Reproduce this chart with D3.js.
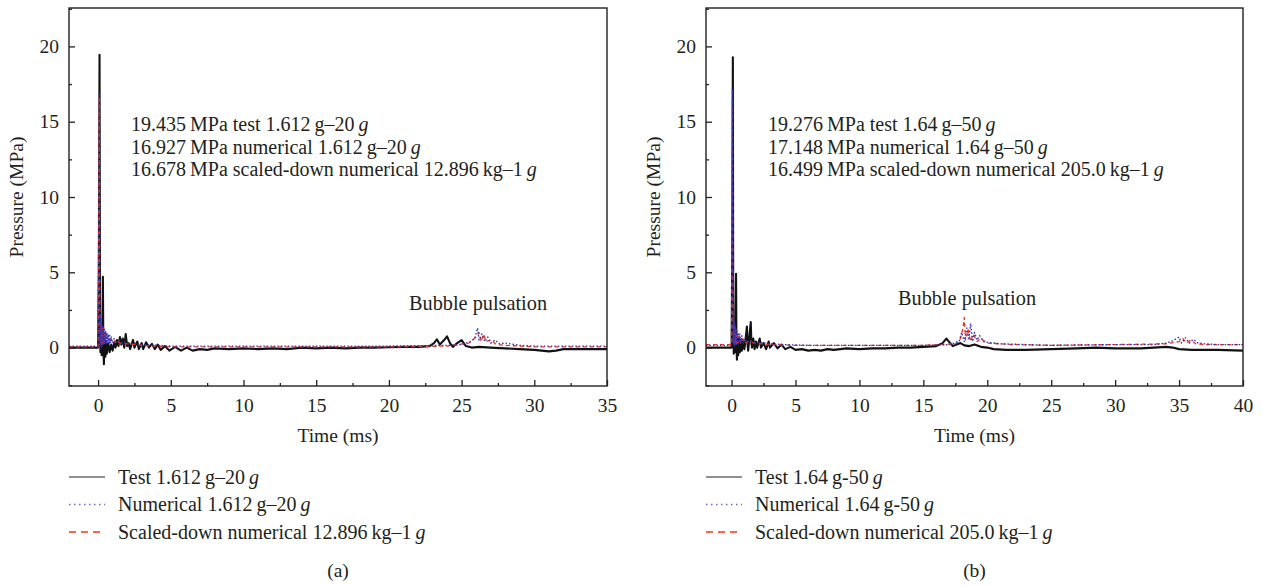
<!DOCTYPE html>
<html><head><meta charset="utf-8">
<script src="https://cdn.jsdelivr.net/npm/d3@7"></script>
<style>body{margin:0;background:#fff}svg{display:block}text{font-family:"Liberation Serif",serif;fill:#231f20}</style>
</head><body><svg id="c" width="1262" height="586"></svg>
<script>
// ---------- data ----------
const yTicks = [0, 5, 10, 15, 20];
const xTicksA = [0, 5, 10, 15, 20, 25, 30, 35];
const xTicksB = [0, 5, 10, 15, 20, 25, 30, 35, 40];

const testA = [[-2,0],[-0.3,0],[0,0],[0.05,5],[0.1,19.435],[0.13,3],[0.16,-0.3],[0.2,1.2],[0.25,-0.5],[0.3,0.8],[0.33,4.7],[0.36,0.2],[0.4,-1.1],[0.45,0.6],[0.5,-0.6],[0.55,0.4],[0.6,-0.4],[0.7,0.3],[0.8,-0.3],[0.9,0.2],[1.0,-0.2],[1.1,0.3],[1.2,0.0],[1.3,0.5],[1.4,0.1],[1.5,0.7],[1.6,0.2],[1.7,0.6],[1.8,0.0],[1.9,0.9],[2.0,0.1],[2.1,0.3],[2.2,-0.1],[2.4,0.5],[2.5,0.0],[2.7,0.4],[2.8,-0.1],[3.0,0.3],[3.1,-0.1],[3.3,0.35],[3.5,0.0],[3.7,0.25],[3.9,-0.1],[4.1,0.2],[4.3,-0.15],[4.6,0.1],[4.9,-0.2],[5.3,0.05],[5.7,-0.2],[6.1,0.0],[6.5,-0.2],[7,-0.1],[7.5,-0.15],[8,-0.05],[9,-0.1],[10,-0.05],[11,-0.1],[12,-0.05],[13,-0.1],[14,0],[15,-0.05],[16,0],[17,-0.05],[18,0],[19,0],[20,0.02],[21,0.05],[22,0.05],[22.8,0.1],[23.1,0.3],[23.3,0.55],[23.5,0.2],[23.8,0.5],[24.0,0.75],[24.2,0.3],[24.4,0.05],[24.7,0.3],[25.0,0.5],[25.3,0.1],[25.7,0.0],[26.2,0.05],[27,0.0],[28,-0.05],[29,-0.1],[30,-0.15],[30.5,-0.2],[31,-0.25],[31.5,-0.2],[32,-0.1],[33,-0.1],[34,-0.1],[35,-0.1]];
const numA = [[-2,0.1],[0,0.1],[0.05,8],[0.08,16.927],[0.1,6],[0.12,2.5],[0.14,0.3],[0.16,2.2],[0.18,0.1],[0.2,1.9],[0.22,0.0],[0.25,1.6],[0.28,0.1],[0.31,1.5],[0.34,0.2],[0.37,1.3],[0.4,0.2],[0.44,1.2],[0.48,0.3],[0.52,1.1],[0.56,0.3],[0.6,1.0],[0.65,0.3],[0.7,0.9],[0.75,0.3],[0.8,0.8],[0.85,0.3],[0.9,0.7],[1.0,0.3],[1.1,0.6],[1.2,0.3],[1.4,0.5],[1.6,0.3],[1.8,0.4],[2.0,0.25],[2.5,0.3],[3,0.2],[4,0.15],[5,0.1],[7,0.1],[10,0.1],[15,0.1],[20,0.1],[24,0.15],[25,0.2],[25.6,0.4],[25.9,0.6],[26.1,1.3],[26.2,0.5],[26.4,0.9],[26.6,0.4],[26.8,0.7],[27,0.3],[27.3,0.5],[27.6,0.25],[28,0.3],[29,0.15],[30,0.1],[35,0.1]];
const sclA = [[-2,0.05],[0,0.05],[0.05,9],[0.08,16.678],[0.1,5],[0.12,2.0],[0.14,0.4],[0.17,1.8],[0.2,0.2],[0.23,1.5],[0.27,0.2],[0.31,1.3],[0.35,0.2],[0.4,1.1],[0.45,0.3],[0.5,1.0],[0.6,0.3],[0.7,0.8],[0.8,0.3],[0.9,0.6],[1.0,0.3],[1.2,0.5],[1.5,0.3],[2,0.25],[3,0.15],[5,0.05],[10,0.05],[15,0.05],[20,0.05],[24,0.1],[25.5,0.3],[26,0.7],[26.2,1.0],[26.35,0.4],[26.5,0.9],[26.7,0.4],[27,0.5],[27.4,0.2],[28,0.15],[30,0.05],[35,0.05]];

const testB = [[-2,0],[0,0],[0.05,6],[0.1,19.276],[0.13,2],[0.17,-0.4],[0.2,1.0],[0.25,-0.3],[0.3,1.5],[0.35,4.9],[0.38,0.3],[0.42,-0.8],[0.47,0.7],[0.52,-0.5],[0.58,0.6],[0.65,-0.3],[0.72,0.5],[0.8,-0.2],[0.9,0.4],[1.0,-0.1],[1.1,0.6],[1.2,1.4],[1.25,0.2],[1.3,-0.2],[1.4,0.8],[1.5,1.7],[1.55,0.3],[1.6,0.0],[1.7,0.6],[1.8,-0.1],[1.9,0.4],[2.0,0.0],[2.2,0.6],[2.3,0.0],[2.5,0.3],[2.7,-0.1],[2.9,0.4],[3.0,0.0],[3.3,0.3],[3.6,-0.05],[3.9,0.2],[4.2,-0.1],[4.6,0.05],[5,-0.15],[5.5,-0.1],[6,-0.2],[6.5,-0.15],[7,-0.2],[7.5,-0.1],[8,-0.15],[9,-0.05],[10,-0.1],[11,-0.05],[12,-0.05],[13,0.0],[14,0.0],[15,0.05],[16,0.1],[16.5,0.3],[16.8,0.6],[17.0,0.4],[17.3,0.1],[17.6,0.2],[17.9,0.3],[18.2,0.15],[18.6,0.1],[19,0.2],[19.5,0.05],[20,0.0],[20.5,-0.1],[21.5,-0.15],[23,-0.15],[25,-0.1],[27,-0.05],[28.5,0.0],[30,-0.05],[32,-0.05],[34,0.05],[34.5,0.0],[35,-0.1],[36,-0.15],[38,-0.15],[40,-0.2]];
const numB = [[-2,0.15],[0,0.15],[0.04,7],[0.07,17.148],[0.1,6],[0.12,2.5],[0.14,0.3],[0.16,2.0],[0.18,0.2],[0.21,1.8],[0.24,0.1],[0.27,1.5],[0.3,0.2],[0.34,1.3],[0.38,0.2],[0.42,1.1],[0.47,0.3],[0.52,1.0],[0.58,0.3],[0.65,0.9],[0.72,0.3],[0.8,0.8],[0.9,0.3],[1.0,0.6],[1.2,0.35],[1.5,0.45],[1.8,0.3],[2.2,0.35],[3,0.25],[4,0.2],[6,0.15],[10,0.15],[15,0.15],[17,0.2],[17.8,0.4],[18.0,1.0],[18.2,0.4],[18.4,1.3],[18.55,0.5],[18.7,1.6],[18.85,0.4],[19.0,1.0],[19.2,0.5],[19.4,0.8],[19.7,0.4],[20,0.35],[21,0.25],[23,0.2],[25,0.15],[30,0.2],[33,0.2],[34,0.3],[34.5,0.45],[35,0.7],[35.2,0.3],[35.5,0.65],[35.8,0.3],[36.1,0.55],[36.5,0.3],[37,0.25],[38,0.2],[40,0.2]];
const sclB = [[-2,0.2],[0,0.2],[0.04,8],[0.07,16.499],[0.1,5],[0.12,2],[0.15,0.3],[0.18,1.7],[0.21,0.2],[0.25,1.4],[0.29,0.2],[0.33,1.2],[0.38,0.25],[0.44,1.0],[0.5,0.3],[0.6,0.8],[0.7,0.3],[0.85,0.6],[1.0,0.3],[1.3,0.4],[1.8,0.3],[3,0.2],[5,0.15],[10,0.15],[15,0.15],[17.5,0.25],[17.9,0.6],[18.1,1.3],[18.2,2.0],[18.3,0.5],[18.5,1.2],[18.7,0.4],[18.9,0.9],[19.2,0.4],[19.5,0.6],[20,0.3],[22,0.2],[25,0.15],[30,0.2],[34,0.25],[35,0.4],[35.3,0.6],[35.6,0.3],[35.9,0.5],[36.3,0.25],[37,0.2],[40,0.2]];

// text: [plain, italic-suffix]
const annA = [["19.435\u2009MPa test 1.612\u2009g–20","g"],["16.927\u2009MPa numerical 1.612\u2009g–20","g"],["16.678\u2009MPa scaled-down numerical 12.896\u2009kg–1","g"]];
const annB = [["19.276\u2009MPa test 1.64\u2009g–50","g"],["17.148\u2009MPa numerical 1.64\u2009g–50","g"],["16.499\u2009MPa scaled-down numerical 205.0\u2009kg–1","g"]];
const legA = [["Test 1.612\u2009g–20","g"],["Numerical 1.612\u2009g–20","g"],["Scaled-down numerical 12.896\u2009kg–1","g"]];
const legB = [["Test 1.64\u2009g-50","g"],["Numerical 1.64\u2009g-50","g"],["Scaled-down numerical 205.0\u2009kg–1","g"]];

// ---------- drawing ----------
const svg = d3.select("#c");
// style order: test, scaled, numerical (drawing order)
const styles = [
  {stroke:"#111", w:2.1, dash:null},
  {stroke:"#ee3322", w:1.3, dash:"4,3"},
  {stroke:"#3434b4", w:1.4, dash:"1.5,2"}
];
const legStyles = [
  {stroke:"#222", w:1.2, dash:null},
  {stroke:"#6a6ad0", w:1.3, dash:"1.5,3.5"},
  {stroke:"#ff3311", w:1.3, dash:"7,5"}
];

function addText(sel, parts){
  sel.append("tspan").text(parts[0]);
  sel.append("tspan").attr("font-style","italic").text("\u2009"+parts[1]);
}

function panel(o){
  const g = svg.append("g");
  const x = d3.scaleLinear().domain([-2, o.xmax]).range([o.x0, o.x1]);
  const y = d3.scaleLinear().domain([-2.55, 22.55]).range([386, 8]);
  const id = "clip"+o.name;
  svg.append("clipPath").attr("id",id).append("rect")
    .attr("x",o.x0).attr("y",8).attr("width",o.x1-o.x0).attr("height",378);

  const line = d3.line().x(d=>x(d[0])).y(d=>y(d[1]));
  const ser = [o.series[0], o.series[2], o.series[1]];
  ser.forEach((s,i)=>{
    g.append("path").datum(s).attr("clip-path",`url(#${id})`)
      .attr("fill","none").attr("stroke",styles[i].stroke)
      .attr("stroke-width",styles[i].w).attr("stroke-dasharray",styles[i].dash)
      .attr("stroke-linejoin","round").attr("d",line);
  });

  const minorX = d3.range(2.5, o.xmax, 5);
  const ax = g.append("g").attr("transform","translate(0,386)")
    .call(d3.axisBottom(x).tickValues(o.xticks).tickSize(-6).tickPadding(12).tickFormat(d3.format("d")));
  const axm = g.append("g").attr("transform","translate(0,386)")
    .call(d3.axisBottom(x).tickValues(minorX).tickSize(-3).tickFormat(""));
  const ay = g.append("g").attr("transform",`translate(${o.x0},0)`)
    .call(d3.axisLeft(y).tickValues(yTicks).tickSize(-6).tickPadding(10).tickFormat(d3.format("d")));
  const aym = g.append("g").attr("transform",`translate(${o.x0},0)`)
    .call(d3.axisLeft(y).tickValues([-2.5,2.5,7.5,12.5,17.5,22.5]).tickSize(-3).tickFormat(""));
  [ax,axm,ay,aym].forEach(a=>{
    a.select(".domain").remove();
    a.selectAll("line").attr("stroke","#222").attr("stroke-width",1.3);
    a.selectAll("text").attr("font-size",19.5).attr("font-family","Liberation Serif").attr("fill","#231f20");
  });
  g.append("rect").attr("x",o.x0).attr("y",8).attr("width",o.x1-o.x0).attr("height",378)
    .attr("fill","none").attr("stroke","#222").attr("stroke-width",1.4);

  const cx = (o.x0+o.x1)/2;
  g.append("text").attr("x",cx).attr("y",442).attr("text-anchor","middle").attr("font-size",19.5).text("Time (ms)");
  g.append("text").attr("transform",`translate(${o.x0-46},197) rotate(-90)`).attr("text-anchor","middle")
    .attr("font-size",19.5).text("Pressure (MPa)");
  g.append("text").attr("x",o.bx).attr("y",o.by).attr("font-size",20.3).text("Bubble pulsation");

  o.ann.forEach((a,i)=>{
    addText(g.append("text").attr("x",o.x0+62).attr("y",131+i*22.6).attr("font-size",20), a);
  });

  o.leg.forEach((a,i)=>{
    const yy = 477 + i*27.5;
    g.append("line").attr("x1",o.x0).attr("x2",o.x0+36).attr("y1",yy).attr("y2",yy)
      .attr("stroke",legStyles[i].stroke).attr("stroke-width",legStyles[i].w).attr("stroke-dasharray",legStyles[i].dash);
    addText(g.append("text").attr("x",o.x0+49).attr("y",yy+6.5).attr("font-size",20), a);
  });
  g.append("text").attr("x",cx).attr("y",577).attr("text-anchor","middle").attr("font-size",19.5).text(o.label);
}

panel({name:"a", x0:69, x1:607, xmax:35, xticks:xTicksA, series:[testA,numA,sclA],
  ann:annA, leg:legA, bx:409, by:310, label:"(a)"});
panel({name:"b", x0:706, x1:1243, xmax:40, xticks:xTicksB, series:[testB,numB,sclB],
  ann:annB, leg:legB, bx:898, by:305, label:"(b)"});
</script></body></html>
